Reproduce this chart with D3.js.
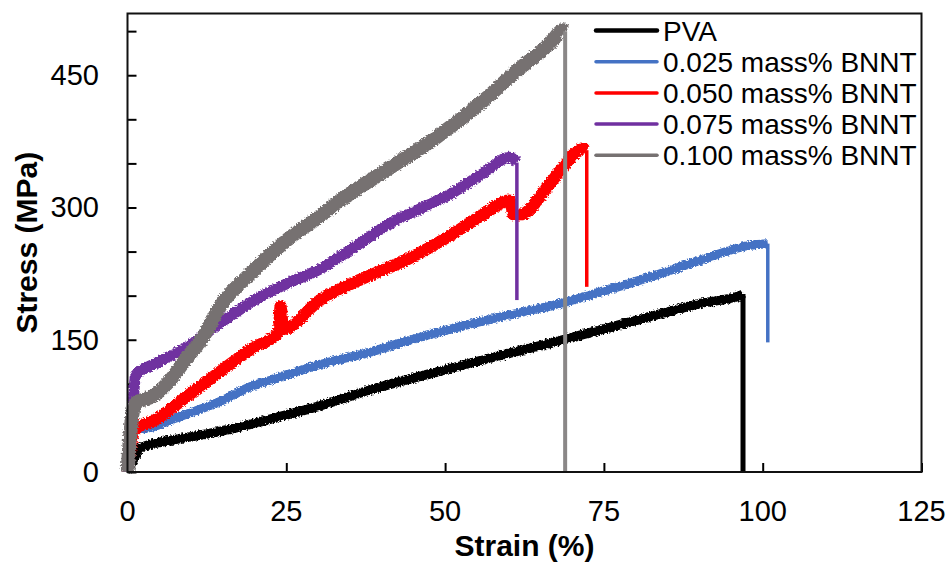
<!DOCTYPE html>
<html>
<head>
<meta charset="utf-8">
<script src="https://cdn.jsdelivr.net/npm/d3@7"></script>
<style>
  body { margin: 0; background: #fff; }
  text { font-family: "Liberation Sans", Arial, sans-serif; }
</style>
</head>
<body>
<div id="chart"></div>
<script>
// Chart dimensions
var w = 951;
var h = 565;
var plotLeft = 127.5, plotRight = 921.5, plotTop = 13.5, plotBottom = 472;

// Data: strain (%) and stress (MPa)
var labels = ["PVA", "0.025 mass% BNNT", "0.050 mass% BNNT", "0.075 mass% BNNT", "0.100 mass% BNNT"];
var colors = ["#000000", "#4472C4", "#FF0000", "#7030A0", "#767171"];

var pvaStrain = [0, 0.8, 2, 4, 6.8, 14.6, 19.8, 22.5, 30.3, 38.2, 50, 58, 66.5, 74.4, 82.2, 90.1, 96.4, 96.9, 96.9];
var pvaStress = [0, 12, 27, 32, 36, 46, 55, 60, 75, 93, 116, 131, 146, 161, 176, 191, 200, 202, 0];

var bn025Strain = [0, 0.6, 1.2, 4, 6.8, 14.6, 19.8, 22.5, 30.3, 38.2, 45.6, 53, 61.3, 66.5, 74.4, 82.2, 90.1, 98, 100.8, 100.8];
var bn025Stress = [0, 30, 47, 51, 59, 80, 98, 104, 122, 136, 152, 166, 180, 188, 204, 221, 240, 257, 259, 147];

var bn050Strain = [0, 0.6, 1.2, 4.1, 9.4, 14.6, 19.8, 23.8, 24.1, 24.5, 30.3, 36.6, 44, 50.8, 56, 60.2, 60.8, 61.8, 66.5, 68.6, 71.7, 72.3, 72.3];
var bn050Stress = [0, 32, 48, 58, 86, 114, 141, 158, 188, 162, 195, 218, 241, 268, 292, 308, 292, 292, 327, 346, 367, 365, 210];

var bn075Strain = [0, 0.7, 1.2, 1.6, 4.1, 9.4, 14.6, 19.8, 25.2, 30.3, 36.1, 41.3, 45.6, 50.8, 56, 60.2, 61.3, 61.3];
var bn075Stress = [0, 55, 106, 112, 122, 142, 169, 194, 214, 230, 257, 282, 297, 315, 339, 357, 351, 195];

var bn100Strain = [0, 0.6, 1.2, 2.5, 4, 6.7, 9.4, 11.9, 14.6, 19.8, 25.6, 30.3, 33.5, 41.3, 48.7, 56, 61.3, 66.5, 68.6, 68.9, 68.9];
var bn100Stress = [0, 55, 78, 82, 86, 104, 130, 153, 188, 228, 266, 290, 308, 345, 380, 421, 455, 486, 501, 500, 0];

var strainTicks = [0, 25, 50, 75, 100, 125];
var stressTicks = [0, 150, 300, 450];
var stressMinorTicks = [0, 50, 100, 150, 200, 250, 300, 350, 400, 450, 500];

var lineWidths = [9.5, 9, 12, 11, 14];
var dropWidths = [5, 3.5, 3.5, 3.5, 4];

function pairs(xs, ys) {
  return xs.map(function(x, i) { return { x: x, y: ys[i] }; });
}

function main() {
  var series = [
    pairs(pvaStrain, pvaStress),
    pairs(bn025Strain, bn025Stress),
    pairs(bn050Strain, bn050Stress),
    pairs(bn075Strain, bn075Stress),
    pairs(bn100Strain, bn100Stress)
  ];

  var xScale = d3.scaleLinear().domain([0, 125]).range([plotLeft, plotRight]);
  var yScale = d3.scaleLinear().domain([0, 520]).range([plotBottom, plotTop]);

  var svg = d3.select("#chart").append("svg")
    .attr("width", w)
    .attr("height", h);

  // rough edges like measured signal
  var filt = svg.append("defs").append("filter")
    .attr("id", "noisy")
    .attr("x", "-5%").attr("y", "-5%")
    .attr("width", "110%").attr("height", "110%");
  filt.append("feTurbulence")
    .attr("type", "fractalNoise")
    .attr("baseFrequency", "0.6")
    .attr("numOctaves", 1)
    .attr("seed", 3)
    .attr("result", "turb");
  filt.append("feDisplacementMap")
    .attr("in", "SourceGraphic")
    .attr("in2", "turb")
    .attr("scale", 5)
    .attr("xChannelSelector", "R")
    .attr("yChannelSelector", "G");

  var curve = d3.line()
    .curve(d3.curveMonotoneX)
    .x(function(d) { return xScale(d.x); })
    .y(function(d) { return yScale(d.y); });

  var line = d3.line()
    .x(function(d) { return xScale(d.x); })
    .y(function(d) { return yScale(d.y); });

  // axes with inward ticks
  var xAxis = d3.axisTop(xScale).tickValues(strainTicks).tickSize(9).tickFormat("");
  var yAxis = d3.axisRight(yScale).tickValues(stressMinorTicks).tickSize(9).tickFormat("");

  svg.append("g")
    .attr("transform", "translate(0," + plotBottom + ")")
    .call(xAxis)
    .call(function(g) { g.select(".domain").remove(); })
    .selectAll("line").attr("stroke", "#000").attr("stroke-width", 2);

  svg.append("g")
    .attr("transform", "translate(" + plotLeft + ",0)")
    .call(yAxis)
    .call(function(g) { g.select(".domain").remove(); })
    .selectAll("line").attr("stroke", "#000").attr("stroke-width", 2);

  // tick labels
  svg.selectAll(".xlab")
    .data(strainTicks)
    .enter().append("text")
    .attr("x", function(d) { return xScale(d); })
    .attr("y", 521)
    .attr("text-anchor", "middle")
    .attr("font-size", "29px")
    .text(function(d) { return d; });

  svg.selectAll(".ylab")
    .data(stressTicks)
    .enter().append("text")
    .attr("x", 99)
    .attr("y", function(d) { return yScale(d) + 10; })
    .attr("text-anchor", "end")
    .attr("font-size", "29px")
    .text(function(d) { return d; });

  // curves, thick noisy part then thin break drop
  series.forEach(function(data, i) {
    var n = data.length;
    svg.append("path")
      .datum(data.slice(0, n - 1))
      .attr("fill", "none")
      .attr("stroke", colors[i])
      .attr("stroke-width", lineWidths[i])
      .attr("stroke-linejoin", "round")
      .attr("stroke-linecap", "butt")
      .attr("filter", "url(#noisy)")
      .attr("d", curve);

    svg.append("path")
      .datum(data.slice(n - 2))
      .attr("fill", "none")
      .attr("stroke", i == 4 ? "#8a8787" : colors[i])
      .attr("stroke-width", dropWidths[i])
      .attr("d", line);
  });

  // plot frame
  svg.append("rect")
    .attr("x", plotLeft)
    .attr("y", plotTop)
    .attr("width", plotRight - plotLeft)
    .attr("height", plotBottom - plotTop)
    .attr("fill", "none")
    .attr("stroke", "#111")
    .attr("stroke-width", 2);

  // axis titles
  svg.append("text")
    .attr("x", (plotLeft + plotRight) / 2)
    .attr("y", 556)
    .attr("text-anchor", "middle")
    .attr("font-size", "30px")
    .attr("font-weight", "bold")
    .text("Strain (%)");

  svg.append("text")
    .attr("transform", "translate(37," + ((plotTop + plotBottom) / 2) + ") rotate(-90)")
    .attr("text-anchor", "middle")
    .attr("font-size", "30px")
    .attr("font-weight", "bold")
    .text("Stress (MPa)");

  // legend
  var legend = svg.selectAll(".legend")
    .data(labels)
    .enter().append("g")
    .attr("class", "legend")
    .attr("transform", function(d, i) { return "translate(0," + (30.5 + i * 31.2) + ")"; });

  legend.append("line")
    .attr("x1", 596)
    .attr("x2", 657)
    .attr("stroke", function(d, i) { return colors[i]; })
    .attr("stroke-width", function(d, i) { return i == 0 ? 4.5 : 3.5; })
    .attr("stroke-linecap", "round");

  legend.append("text")
    .attr("x", 663)
    .attr("y", 10)
    .attr("font-size", "28px")
    .text(function(d) { return d; });
}

window.onload = function() {
  main();
};
</script>
</body>
</html>
